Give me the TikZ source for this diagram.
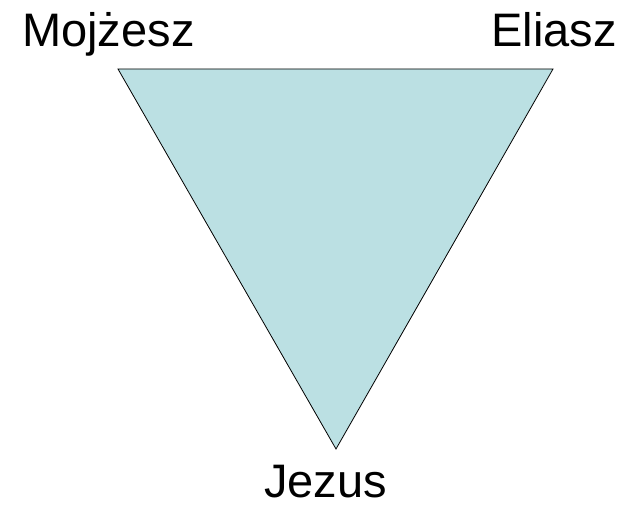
\documentclass[tikz,border=0pt]{standalone}
\usepackage{fontspec}
\setmainfont{Liberation Sans}
\definecolor{trianglefill}{HTML}{BBE0E3}

\tikzset{
  namelabel/.style={inner sep=0pt,font=\fontsize{47}{56}\selectfont}
}

\begin{document}
\begin{tikzpicture}[x=1pt,y=1pt]
  \useasboundingbox (0,0) rectangle (625,505);
  % vertices
  \coordinate (tl) at (118,436);
  \coordinate (tr) at (553,436);
  \coordinate (bt) at (336,56);
  % triangle
  \draw[fill=trianglefill,line width=0.8pt,line join=miter] (tl) -- (tr) -- (bt) -- cycle;
  % labels
  \node[namelabel,anchor=base west] (mojzesz) at (22,458) {Mojżesz};
  \node[namelabel,anchor=base east] (eliasz) at (617,458) {Eliasz};
  \node[namelabel,anchor=base west] (jezus) at (264,7) {Jezus};
\end{tikzpicture}
\end{document}
